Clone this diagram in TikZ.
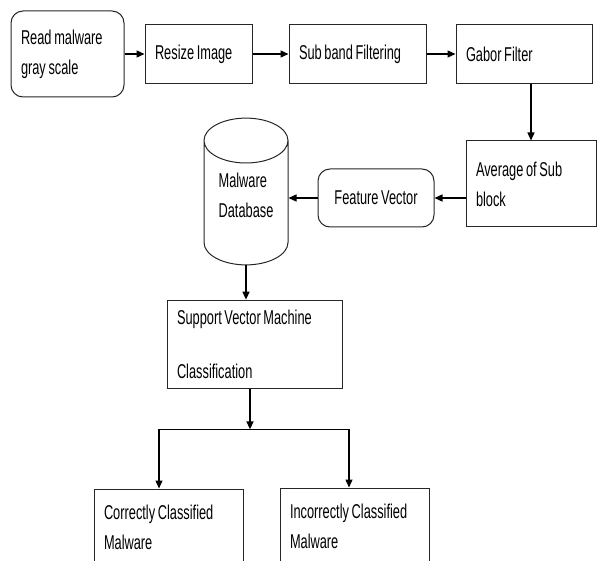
\documentclass[tikz,border=0pt]{standalone}
\usepackage{fontspec}
\setmainfont{Liberation Sans}[FakeStretch=0.64, WordSpace=0.75]
\usetikzlibrary{shapes.geometric,arrows.meta,positioning,calc}
\tikzset{
	stepbox/.style={rectangle, draw=black!85, line width=1pt, align=flush left,
		font=\fontsize{20}{30}\selectfont, inner sep=10pt},
	roundbox/.style={stepbox, rounded corners=12pt},
	dbstore/.style={stepbox, shape=cylinder, shape border rotate=90, aspect=0.6},
	flowarr/.style={-{Triangle[length=8pt,width=7pt]}, line width=1.4pt}
}
\begin{document}
\begin{tikzpicture}[x=1pt,y=-1pt]
			\clip (0,0) rectangle (597,561);
			\node[roundbox, text width=93pt, minimum height=86pt] (read) at (67.5,54) {Read malware\\gray scale};
			\node[stepbox, text width=87pt, minimum height=59pt, right=20pt of read] (resize) {Resize Image};
			\node[stepbox, text width=117pt, minimum height=59pt, right=36pt of resize] (subband) {Sub band Filtering};
			\node[stepbox, text width=116pt, minimum height=59pt, right=29pt of subband] (gabor) {Gabor Filter};
			\node[stepbox, text width=110pt, minimum height=86pt] (avg) at (531,184) {Average of Sub\\block};
			\node[roundbox, align=center, minimum width=116pt, minimum height=58pt] (feat) at (376,198) {Feature Vector};
			\node[dbstore, minimum width=84pt, minimum height=141pt, anchor=shape center] (db) at (246,191.5) {Malware\\Database\\[-1pt]\mbox{}};
			\node[stepbox, text width=155pt, minimum height=85pt] (svm) at (254.5,344.5) {Support Vector Machine\\[24pt]Classification};
			\node[stepbox, text width=129pt, minimum height=76pt] (correct) at (168.5,527) {Correctly Classified\\Malware};
			\node[stepbox, text width=129pt, minimum height=76pt] (incorrect) at (354.5,526) {Incorrectly Classified\\Malware};
			\coordinate (split) at ($(svm.south)+(-4.5,40)$);
			\draw[flowarr] (read)--(resize);
			\draw[flowarr] (resize)--(subband);
			\draw[flowarr] (subband)--(gabor);
			\draw[flowarr] (avg.north |- gabor.south)--(avg.north);
			\draw[flowarr] (avg.west |- feat.east)--(feat.east);
			\draw[flowarr] (feat.west)--(feat.west -| db.east);
			\draw[flowarr] (db)--(db |- svm.north);
			\draw[flowarr] (svm.south -| split)--(split);
			\draw[flowarr] (split) -| ([xshift=-9.5pt]correct.north);
			\draw[flowarr] (split) -| ([xshift=-5.5pt]incorrect.north);
		\end{tikzpicture}
\end{document}
